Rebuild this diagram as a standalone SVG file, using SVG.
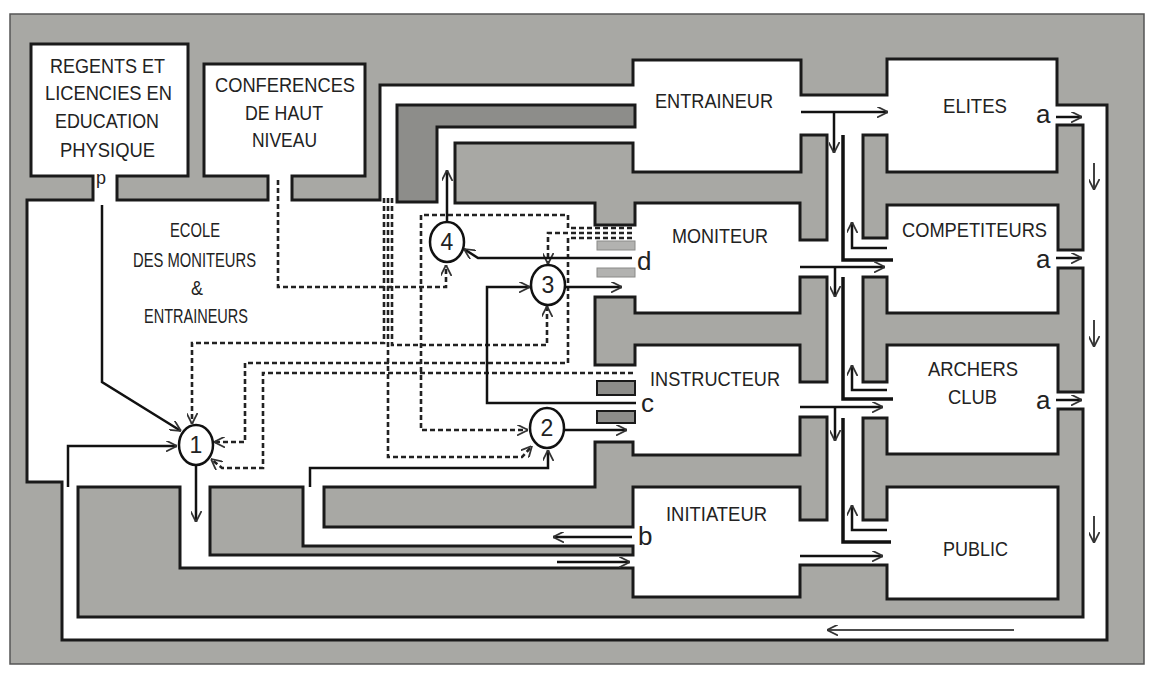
<svg xmlns="http://www.w3.org/2000/svg" width="1154" height="673" viewBox="0 0 1154 673">
<style>
.t{font-family:"Liberation Sans Narrow","Liberation Sans",Arial,sans-serif;font-size:21px;fill:#222}
.lb{font-family:"Liberation Sans",Arial,sans-serif;font-size:26px;fill:#222}
.isl{fill:#a8a8a4;stroke:#1a1a1a;stroke-width:3;stroke-linejoin:miter}
.dk{fill:#8d8d8a}
.ln{fill:none;stroke:#111;stroke-width:2.5}
.th{fill:none;stroke:#111;stroke-width:1.6}
.tk{fill:none;stroke:#111;stroke-width:3.5}
.ds{fill:none;stroke:#222;stroke-width:2.6;stroke-dasharray:5 3}
.cir{fill:#fff;stroke:#111;stroke-width:2.5}
</style>
<defs>
<marker id="ah" viewBox="0 0 10 10" refX="10" refY="5" markerWidth="11" markerHeight="11" markerUnits="userSpaceOnUse" orient="auto">
<path d="M0,0 L10,5 L0,10" fill="none" stroke="#333" stroke-width="1.6"/>
</marker>
</defs>
<rect x="0" y="0" width="1154" height="673" fill="#fff"/>
<g id="walls">
<rect x="10" y="14" width="1134" height="650" fill="#a8a8a4" stroke="#555" stroke-width="1.5"/>
<polygon points="31,44 188,44 188,176 117,176 117,200 268,200 268,176 204,176 204,64 365,64 365,176 292,176 292,200 380,200 380,85 633,85 633,60 801,60 801,95 887,95 887,59 1057,59 1057,105 1107,105 1107,640 62,640 62,482 27,482 27,200 93,200 93,176 31,176" fill="#fff" stroke="#1a1a1a" stroke-width="3"/>
<polygon class="isl dk" points="397,105 635,105 635,127 437,127 437,202 397,202"/>
<polygon class="isl" points="455,143 633,143 633,172 801,172 801,135 827,135 827,240 800,240 800,203 635,203 635,225 595,225 595,203 455,203"/>
<polygon class="isl" points="595,297 635,297 635,313 800,313 800,277 827,277 827,382 800,382 800,345 635,345 635,365 595,365"/>
<polygon class="isl" points="324,487 595,487 595,442 633,442 633,455 800,455 800,417 827,417 827,520 800,520 800,487 633,487 633,527 324,527"/>
<polygon class="isl" points="210,487 303,487 303,546 633,546 633,555 210,555"/>
<polygon class="isl" points="78,487 180,487 180,568 633,568 633,597 800,597 800,565 887,565 887,599 1058,599 1058,487 887,487 887,520 863,520 863,418 887,418 887,454 1058,454 1058,409 1083,409 1083,617 78,617"/>
<polygon class="isl" points="863,135 887,135 887,172 1057,172 1057,125 1083,125 1083,250 1058,250 1058,205 887,205 887,238 863,238"/>
<polygon class="isl" points="863,277 887,277 887,313 1058,313 1058,268 1083,268 1083,392 1058,392 1058,345 887,345 887,382 863,382"/>
<rect x="597" y="241" width="38" height="9" fill="#b2b2b0" stroke="#8a8a88" stroke-width="1"/>
<rect x="597" y="268" width="38" height="9" fill="#b2b2b0" stroke="#8a8a88" stroke-width="1"/>
<rect x="597" y="381" width="38" height="14" fill="#8d8d8a" stroke="#1a1a1a" stroke-width="2"/>
<rect x="597" y="411" width="38" height="12" fill="#8d8d8a" stroke="#1a1a1a" stroke-width="2"/>
</g>
<g id="node-regents">
<text class="t" x="50" y="73" textLength="115" lengthAdjust="spacingAndGlyphs">REGENTS ET</text>
<text class="t" x="45" y="100" textLength="127" lengthAdjust="spacingAndGlyphs">LICENCIES EN</text>
<text class="t" x="55" y="128" textLength="104" lengthAdjust="spacingAndGlyphs">EDUCATION</text>
<text class="t" x="60" y="157" textLength="95" lengthAdjust="spacingAndGlyphs">PHYSIQUE</text>
<text class="lb" x="96" y="184" style="font-size:18px">p</text>
</g>
<g id="node-conferences">
<text class="t" x="215" y="92" textLength="140" lengthAdjust="spacingAndGlyphs">CONFERENCES</text>
<text class="t" x="245" y="120" textLength="78" lengthAdjust="spacingAndGlyphs">DE HAUT</text>
<text class="t" x="252" y="147" textLength="65" lengthAdjust="spacingAndGlyphs">NIVEAU</text>
</g>
<g id="node-ecole">
<text class="t" x="170" y="237" textLength="50" lengthAdjust="spacingAndGlyphs">ECOLE</text>
<text class="t" x="133" y="267" textLength="123" lengthAdjust="spacingAndGlyphs">DES MONITEURS</text>
<text class="t" x="191" y="295" textLength="12" lengthAdjust="spacingAndGlyphs">&amp;</text>
<text class="t" x="144" y="323" textLength="104" lengthAdjust="spacingAndGlyphs">ENTRAINEURS</text>
</g>
<g id="node-entraineur">
<text class="t" x="655" y="108" textLength="118" lengthAdjust="spacingAndGlyphs">ENTRAINEUR</text>
</g>
<g id="node-moniteur">
<text class="t" x="672" y="243" textLength="96" lengthAdjust="spacingAndGlyphs">MONITEUR</text>
<text class="lb" x="637" y="270">d</text>
</g>
<g id="node-instructeur">
<text class="t" x="650" y="386" textLength="130" lengthAdjust="spacingAndGlyphs">INSTRUCTEUR</text>
<text class="lb" x="641" y="412">c</text>
</g>
<g id="node-initiateur">
<text class="t" x="666" y="521" textLength="101" lengthAdjust="spacingAndGlyphs">INITIATEUR</text>
<text class="lb" x="638" y="545">b</text>
</g>
<g id="node-elites">
<text class="t" x="943" y="113" textLength="64" lengthAdjust="spacingAndGlyphs">ELITES</text>
<text class="lb" x="1036" y="123">a</text>
</g>
<g id="node-competiteurs">
<text class="t" x="902" y="237" textLength="145" lengthAdjust="spacingAndGlyphs">COMPETITEURS</text>
<text class="lb" x="1036" y="268">a</text>
</g>
<g id="node-archers">
<text class="t" x="928" y="376" textLength="90" lengthAdjust="spacingAndGlyphs">ARCHERS</text>
<text class="t" x="948" y="404" textLength="49" lengthAdjust="spacingAndGlyphs">CLUB</text>
<text class="lb" x="1036" y="409">a</text>
</g>
<g id="node-public">
<text class="t" x="943" y="556" textLength="65" lengthAdjust="spacingAndGlyphs">PUBLIC</text>
</g>
<g id="connectors">
<path class="ds" d="M278,180 V287 H446 V265" marker-end="url(#ah)"/>
<path class="ds" d="M384,198 V343 H192 V424" marker-end="url(#ah)"/>
<path class="ds" d="M392,198 V345 H547 V306" marker-end="url(#ah)"/>
<path class="ds" d="M388,198 V457 H522 L532,446" marker-end="url(#ah)"/>
<path class="ds" d="M632,228 H568 V215 H421 V430 H528" marker-end="url(#ah)"/>
<path class="ds" d="M632,238 H568 V363 H245 V442 H214" marker-end="url(#ah)"/>
<path class="ds" d="M632,233 H548 V264" marker-end="url(#ah)"/>
<path class="ds" d="M633,373 H263 V468 H222 L211,459" marker-end="url(#ah)"/>
<path class="ln" d="M102,205 V382 L181,431" marker-end="url(#ah)"/>
<path class="ln" d="M196,465 V522" marker-end="url(#ah)"/>
<path class="ln" d="M68,487 V446 H177" marker-end="url(#ah)"/>
<path class="ln" d="M310,487 V468 H548 V450" marker-end="url(#ah)"/>
<path class="ln" d="M564,430 H627" marker-end="url(#ah)"/>
<path class="ln" d="M636,403 H487 V287 H530" marker-end="url(#ah)"/>
<path class="ln" d="M565,287 H622" marker-end="url(#ah)"/>
<path class="ln" d="M632,258 H478 L464,249" marker-end="url(#ah)"/>
<path class="ln" d="M447,222 V170" marker-end="url(#ah)"/>
<path class="ln" d="M632,537 H553" marker-end="url(#ah)"/>
<path class="ln" d="M557,562 H630" marker-end="url(#ah)"/>
<path class="th" d="M1014,630 H827" marker-end="url(#ah)"/>
<path class="ln" d="M801,112 H888" marker-end="url(#ah)"/>
<path class="ln" d="M834,112 V153" marker-end="url(#ah)"/>
<path class="ln" d="M800,267 H885" marker-end="url(#ah)"/>
<path class="ln" d="M835,267 V297" marker-end="url(#ah)"/>
<path class="ln" d="M800,407 H883" marker-end="url(#ah)"/>
<path class="ln" d="M835,407 V441" marker-end="url(#ah)"/>
<path class="ln" d="M800,556 H883" marker-end="url(#ah)"/>
<path class="ln" d="M887,248 H852 V222" marker-end="url(#ah)"/>
<path class="ln" d="M887,390 H852 V365" marker-end="url(#ah)"/>
<path class="ln" d="M887,530 H852 V505" marker-end="url(#ah)"/>
<path class="tk" d="M893,260 H843 V135"/>
<path class="tk" d="M893,399 H843 V277"/>
<path class="tk" d="M891,542 H843 V418"/>
<path class="ln" d="M1056,117 H1082" marker-end="url(#ah)"/>
<path class="ln" d="M1056,258 H1082" marker-end="url(#ah)"/>
<path class="ln" d="M1056,400 H1082" marker-end="url(#ah)"/>
<path class="th" d="M1094,163 V190" marker-end="url(#ah)"/>
<path class="th" d="M1094,320 V347" marker-end="url(#ah)"/>
<path class="th" d="M1094,516 V543" marker-end="url(#ah)"/>
</g>
<g id="circle-1"><ellipse class="cir" cx="196" cy="445" rx="17" ry="20"/><text class="t" x="196" y="453" text-anchor="middle" style="font-size:23px">1</text></g>
<g id="circle-2"><ellipse class="cir" cx="547" cy="428" rx="17" ry="20"/><text class="t" x="547" y="436" text-anchor="middle" style="font-size:23px">2</text></g>
<g id="circle-3"><ellipse class="cir" cx="548" cy="285" rx="17" ry="20"/><text class="t" x="548" y="293" text-anchor="middle" style="font-size:23px">3</text></g>
<g id="circle-4"><ellipse class="cir" cx="447" cy="242" rx="17" ry="20"/><text class="t" x="447" y="250" text-anchor="middle" style="font-size:23px">4</text></g>
</svg>
